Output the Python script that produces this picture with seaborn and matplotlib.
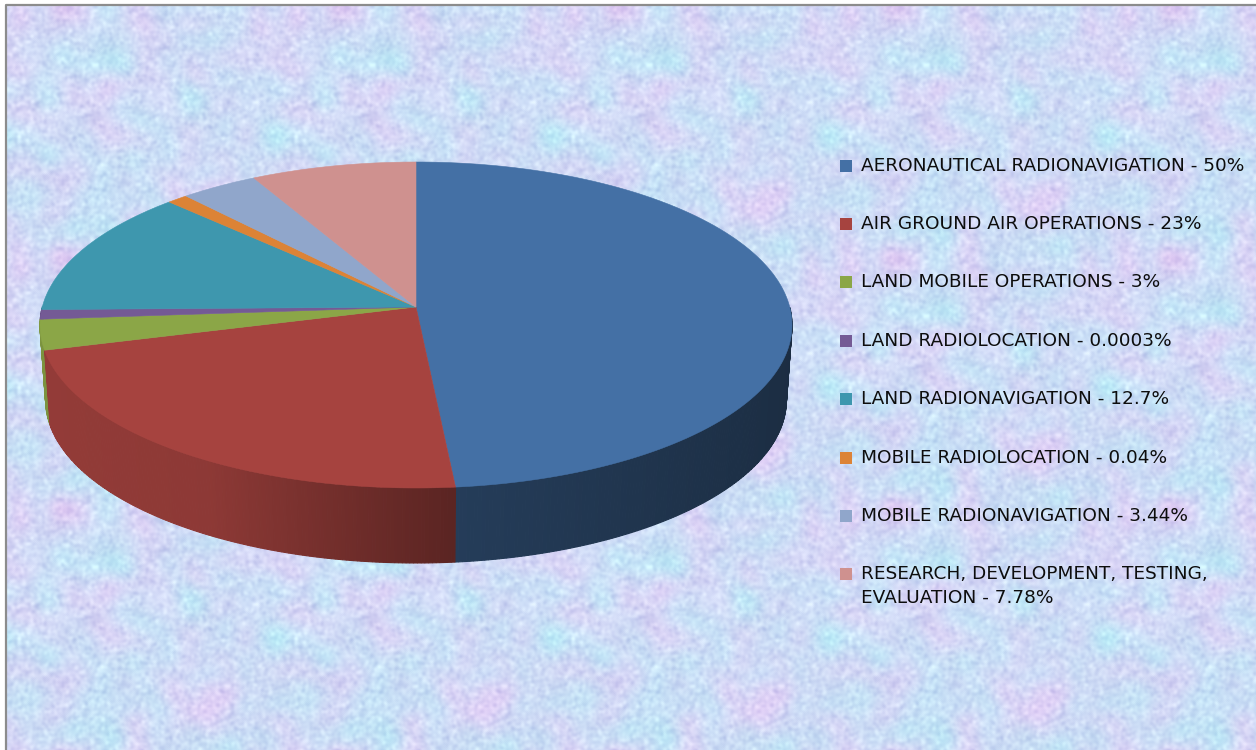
import numpy as np
import seaborn as sns
import matplotlib.pyplot as plt

sns.set_theme(style="white")
plt.rcParams['font.family'] = ['DejaVu Sans']

# shares as drawn, the labels carry the printed numbers
slice_shares = [48.5, 22.3, 3.0, 0.95, 12.65, 1.0, 3.7, 7.9]
slice_labels = [
    "AERONAUTICAL RADIONAVIGATION - 50%",
    "AIR GROUND AIR OPERATIONS - 23%",
    "LAND MOBILE OPERATIONS - 3%",
    "LAND RADIOLOCATION - 0.0003%",
    "LAND RADIONAVIGATION - 12.7%",
    "MOBILE RADIOLOCATION - 0.04%",
    "MOBILE RADIONAVIGATION - 3.44%",
    "RESEARCH, DEVELOPMENT, TESTING,\nEVALUATION - 7.78%",
]
slice_colors = ["#4470A5", "#A6433F", "#8BA647", "#745A95",
                "#3E97AE", "#DC8336", "#90A6CB", "#CF918F"]
legend_rows = [166, 224, 282, 341, 399, 458, 516, 574]

# pie geometry in pixels
cx, cy = 416, 307
a, b, k = 373.7, 161, 0.1104
depth = 75
shrink = 0.985


def rim(theta):
    # clockwise from the top, tilted disc with perspective
    x, y = np.sin(theta), np.cos(theta)
    d = 1 + k * y
    return cx + a * x / d, cy - b * y / d


def blur(img, n):
    for _ in range(n):
        img = (img + np.roll(img, 1, 0) + np.roll(img, -1, 0) + np.roll(img, 1, 1) + np.roll(img, -1, 1)) / 5
    return img


def make_texture(h=251, w=277):
    rng = np.random.default_rng(11)
    coarse = blur(rng.normal(size=(h, w)), 300)
    coarse = coarse / coarse.std()
    coarse2 = blur(rng.normal(size=(h, w)), 120)
    coarse2 = coarse2 / coarse2.std()
    fine = blur(rng.normal(size=(h, w)), 5)
    fine = fine / fine.std()
    tile = np.zeros((h, w, 3))
    tile[..., 0] = 207 + 6 * coarse + 6 * fine
    tile[..., 1] = 219 - 4 * coarse + 2 * coarse2 + 6 * fine
    tile[..., 2] = 246 + 1 * coarse2 + 3 * fine
    return np.clip(tile, 0, 255) / 255


fig = plt.figure(figsize=(12.56, 7.5), dpi=100)
ax = fig.add_axes([0, 0, 1, 1])

# background, repeated tile like the picture fill
tile = make_texture()
bg = np.tile(tile, (4, 6, 1))[:746, :1250]
ax.imshow(bg, extent=[6, 1256, 750, 4], aspect='auto', interpolation='bilinear', zorder=0)
ax.plot([5.5, 5.5, 1256], [750, 5, 5], color="#8c8c8c", lw=1.6, zorder=1, solid_capstyle='butt')

# slice limits from the shares
edges = np.cumsum([0] + slice_shares) / np.sum(slice_shares) * 2 * np.pi

# side wall, strips shaded from left to right, far ones first
strips = []
for i, color in enumerate(slice_colors):
    n = max(int((edges[i + 1] - edges[i]) * 110), 2)
    t = np.linspace(edges[i], edges[i + 1], n + 1)
    for t0, t1 in zip(t[:-1], t[1:]):
        strips.append((np.cos((t0 + t1) / 2), t0, t1, color))
strips.sort(key=lambda s: -s[0])
for c, t0, t1, color in strips:
    if c > 0:
        continue
    tt = np.linspace(t0, t1, 3)
    xs, ys = rim(tt)
    xl = cx + shrink * (xs - cx)
    yl = ys + depth
    shade = np.interp(np.sin((t0 + t1) / 2), [-1, -0.5, 0.1, 1], [0.89, 0.85, 0.54, 0.40])
    rgb = np.array(sns.desaturate(color, 1)) * shade
    ax.fill(np.r_[xs, xl[::-1]], np.r_[ys, yl[::-1]], color=rgb, lw=0.8, zorder=2)

# top of the pie
for i, color in enumerate(slice_colors):
    t = np.linspace(edges[i], edges[i + 1], max(int((edges[i + 1] - edges[i]) * 120), 4))
    xs, ys = rim(t)
    ax.fill(np.r_[cx, xs], np.r_[cy, ys], color=color, lw=0.4, zorder=3)

# legend
sns.scatterplot(x=[846] * len(legend_rows), y=legend_rows, hue=slice_labels,
                palette=slice_colors, marker='s', s=75, linewidth=0,
                legend=False, ax=ax, zorder=4)
for y, label in zip(legend_rows, slice_labels):
    ax.text(861, y - 9, label, fontsize=13.3, color="#0d0d0d", va='top', ha='left',
            linespacing=1.4, zorder=4)

ax.set_xlim(0, 1256)
ax.set_ylim(750, 0)
ax.axis('off')
fig.savefig("out.png", dpi=100, facecolor='white')
